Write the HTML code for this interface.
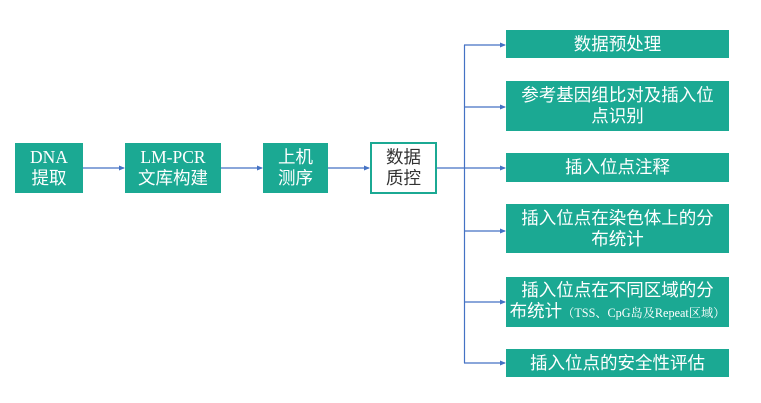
<!DOCTYPE html>
<html><head><meta charset="utf-8"><style>
html,body{margin:0;padding:0;background:#fff;}
body{width:761px;height:403px;position:relative;overflow:hidden;font-family:"Liberation Sans","Noto Sans CJK SC",sans-serif;}
.b{position:absolute;background:#1ba993;color:#fff;display:flex;align-items:center;justify-content:center;text-align:center;font-size:17.5px;line-height:21px;box-sizing:border-box;}
.s{font-family:"Liberation Serif","Noto Serif CJK SC",serif;}
.w{background:#fff;color:#333;border:2.5px solid #1ba993;}
.sm{font-size:12.2px;font-family:"Liberation Serif","Noto Serif CJK SC",serif;}
svg{position:absolute;left:0;top:0;}
</style></head><body>
<svg width="761" height="403">
<defs><marker id="a" markerWidth="6" markerHeight="6" refX="5" refY="3" orient="auto" markerUnits="userSpaceOnUse"><path d="M0,0.5 L6,3 L0,5.5 z" fill="#4472c4"/></marker></defs>
<g stroke="#4472c4" stroke-width="1.2" fill="none">
<line x1="83" y1="168" x2="124" y2="168" marker-end="url(#a)"/>
<line x1="221" y1="168" x2="262" y2="168" marker-end="url(#a)"/>
<line x1="328" y1="168" x2="369" y2="168" marker-end="url(#a)"/>
<line x1="437" y1="168" x2="505" y2="168" marker-end="url(#a)"/>
<line x1="464.5" y1="45" x2="464.5" y2="363"/>
<line x1="464" y1="45" x2="505" y2="45" marker-end="url(#a)"/>
<line x1="464" y1="107" x2="505" y2="107" marker-end="url(#a)"/>
<line x1="464" y1="231" x2="505" y2="231" marker-end="url(#a)"/>
<line x1="464" y1="302" x2="505" y2="302" marker-end="url(#a)"/>
<line x1="464" y1="363" x2="505" y2="363" marker-end="url(#a)"/>
</g>
</svg>
<div class="b" style="left:15px;top:143px;width:68px;height:50px;"><div><span class="s">DNA</span><br>提取</div></div>
<div class="b" style="left:125px;top:143px;width:96px;height:50px;"><div><span class="s">LM-PCR</span><br>文库构建</div></div>
<div class="b" style="left:263px;top:143px;width:65px;height:50px;"><div>上机<br>测序</div></div>
<div class="b w" style="left:370px;top:142px;width:67px;height:52px;"><div>数据<br>质控</div></div>
<div class="b" style="left:506px;top:30px;width:223px;height:28px;">数据预处理</div>
<div class="b" style="left:506px;top:81px;width:223px;height:50px;"><div>参考基因组比对及插入位<br>点识别</div></div>
<div class="b" style="left:506px;top:153px;width:223px;height:29px;">插入位点注释</div>
<div class="b" style="left:506px;top:204px;width:223px;height:49px;"><div>插入位点在染色体上的分<br>布统计</div></div>
<div class="b" style="left:506px;top:277px;width:223px;height:50px;"><div style="white-space:nowrap;">插入位点在不同区域的分<br>布统计<span class="sm">（TSS、CpG岛及Repeat区域）</span></div></div>
<div class="b" style="left:506px;top:349px;width:223px;height:28px;">插入位点的安全性评估</div>
</body></html>
